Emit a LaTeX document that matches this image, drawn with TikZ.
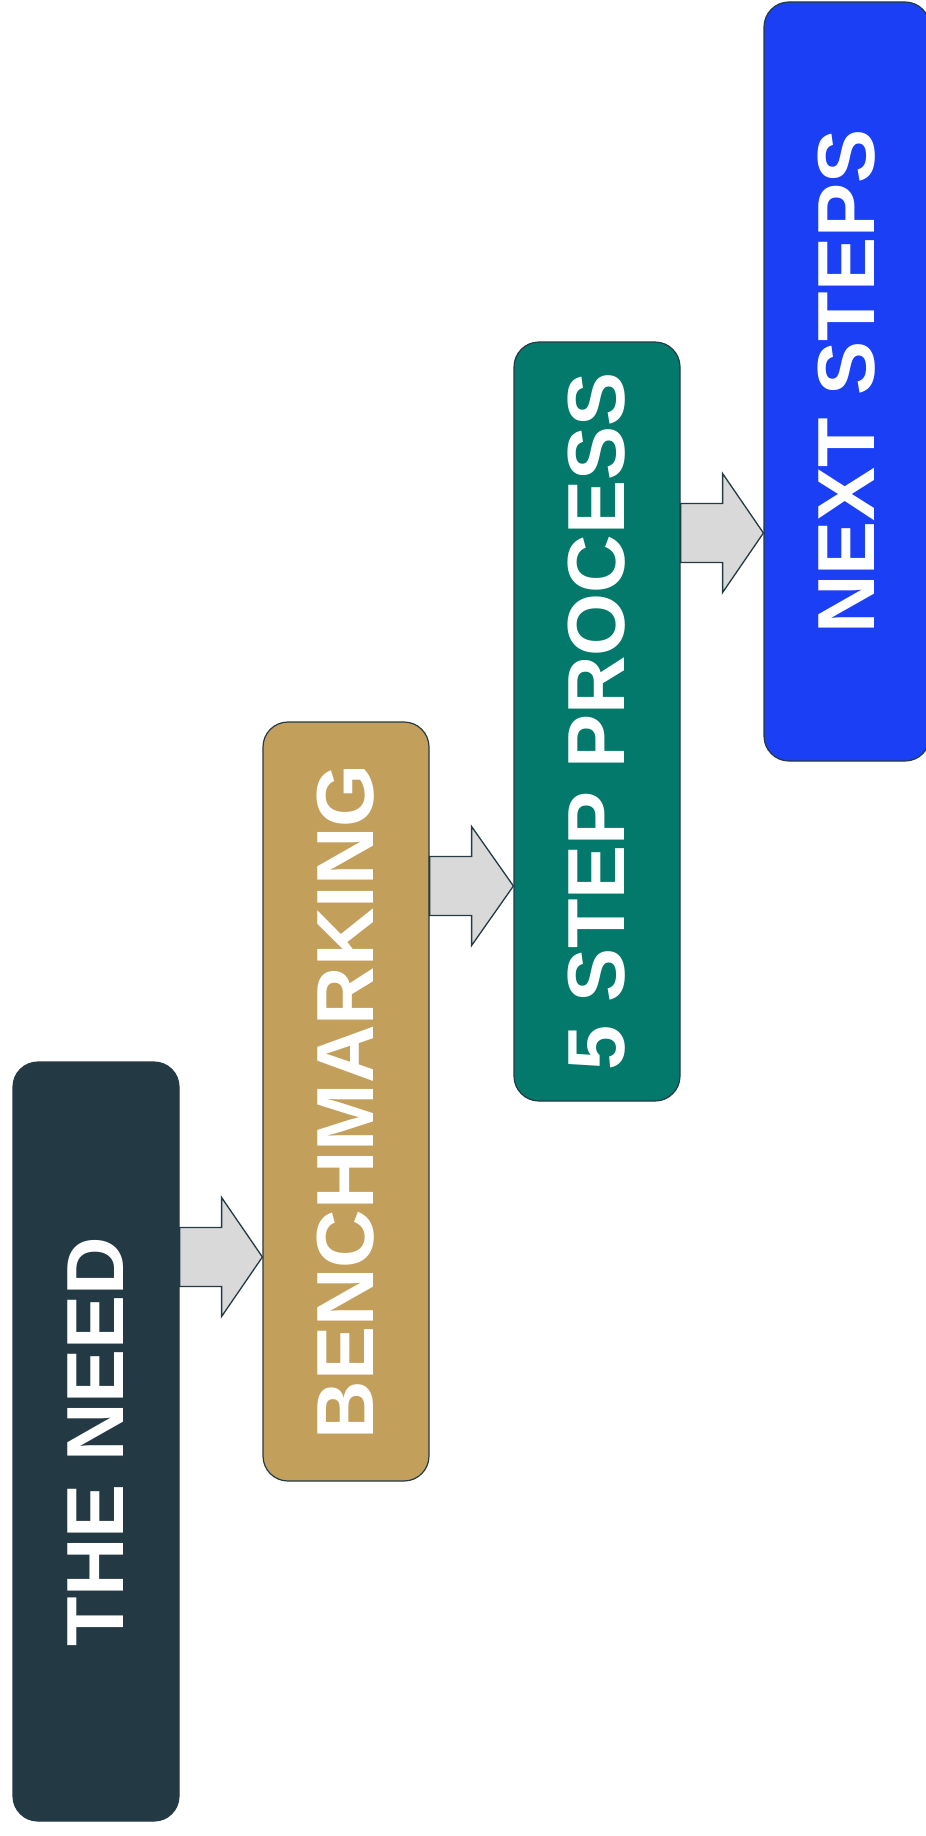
\documentclass[tikz,border=0pt]{standalone}
\usepackage{fontspec}
\setmainfont{Liberation Sans}
\usetikzlibrary{calc}
\definecolor{edgec}{HTML}{243A45}
\definecolor{needc}{HTML}{233A45}
\definecolor{benchc}{HTML}{C39F5C}
\definecolor{procc}{HTML}{02796A}
\definecolor{nextc}{HTML}{1A3FF5}
\definecolor{arrowc}{HTML}{D9D9D9}
\begin{document}
\begin{tikzpicture}[x=1pt,y=-1pt,
  stage/.style={draw=edgec, line width=1.2pt, rounded corners=25pt,
    minimum width=166pt, minimum height=759pt, inner sep=0pt,
    text=white, font=\fontsize{81}{90}\selectfont\bfseries},
  blockarrow/.style={draw=edgec, fill=arrowc, line width=1.3pt, line join=miter}]
\useasboundingbox (0,0) rectangle (926,1836);
\node[stage, fill=needc]  (need)  at (96,1441.5)  {\rotatebox{90}{THE NEED}};
\node[stage, fill=benchc] (bench) at (346,1101.5) {\rotatebox{90}{BENCHMARKING}};
\node[stage, fill=procc]  (proc)  at (597,721.5)  {\rotatebox{90}{5 STEP PROCESS}};
\node[stage, fill=nextc]  (next)  at (847,381.5)  {\rotatebox{90}{NEXT STEPS}};
% arrows
\foreach \a/\b/\yy in {need/bench/1257, bench/proc/886, proc/next/533}{
  \path (\a.east |- 0,\yy) coordinate (s) (\b.west |- 0,\yy) coordinate (t);
  \draw[blockarrow] ($(s)+(0,-29.5)$) -- ($(s)+(42,-29.5)$) -- ($(s)+(42,-59.5)$)
    -- (t) -- ($(s)+(42,59.5)$) -- ($(s)+(42,29.5)$) -- ($(s)+(0,29.5)$) -- cycle;
}
\end{tikzpicture}
\end{document}
